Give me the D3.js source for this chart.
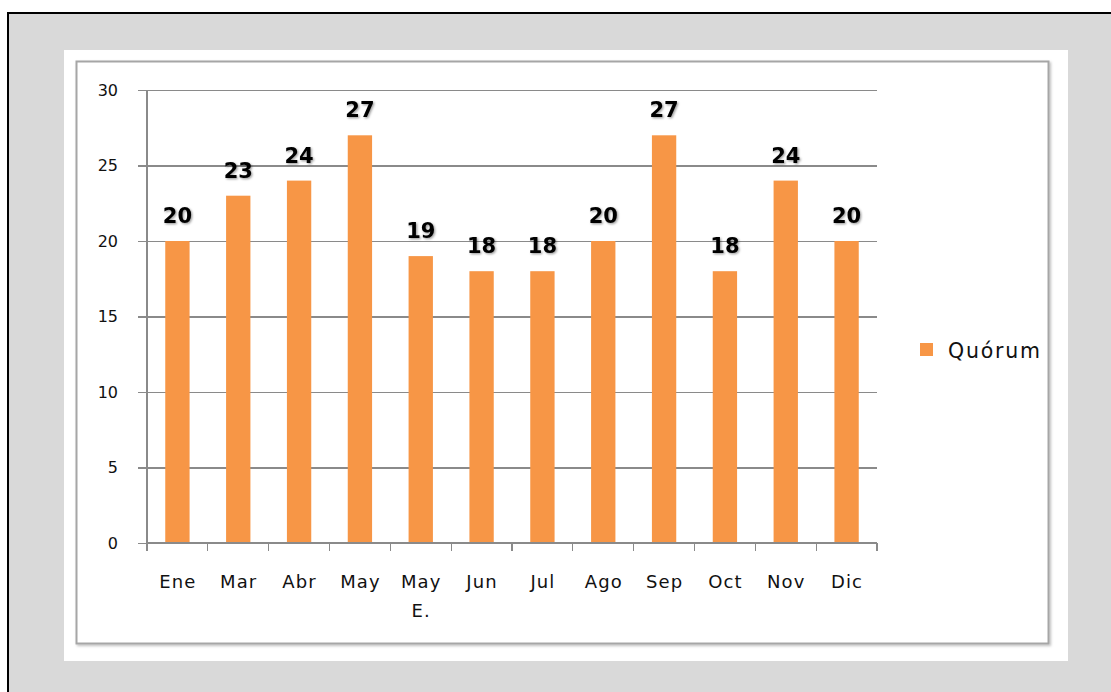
<!DOCTYPE html>
<html>
<head>
<meta charset="utf-8">
<script src="https://cdn.jsdelivr.net/npm/d3@7"></script>
<style>
  html, body { margin: 0; padding: 0; background: #ffffff; }
  svg { display: block; }
</style>
</head>
<body>
<script>
const categories = ["Ene", "Mar", "Abr", "May", "May\nE.", "Jun", "Jul", "Ago", "Sep", "Oct", "Nov", "Dic"];
const quorum = [20, 23, 24, 27, 19, 18, 18, 20, 27, 18, 24, 20];
const yTicks = [0, 5, 10, 15, 20, 25, 30];
const seriesName = "Quórum";

const W = 1111, H = 692;
const svg = d3.select("body").append("svg").attr("width", W).attr("height", H);

const defs = svg.append("defs");
const f = defs.append("filter").attr("id", "lblshadow").attr("x", "-20%").attr("y", "-20%").attr("width", "150%").attr("height", "150%");
f.append("feDropShadow").attr("dx", 1.2).attr("dy", 1.2).attr("stdDeviation", 0.9).attr("flood-color", "#000").attr("flood-opacity", 0.4);
const fs = defs.append("filter").attr("id", "frameshadow").attr("x", "-5%").attr("y", "-5%").attr("width", "110%").attr("height", "110%");
fs.append("feDropShadow").attr("dx", 1.5).attr("dy", 1.5).attr("stdDeviation", 0.8).attr("flood-color", "#000").attr("flood-opacity", 0.25);

// outer frame
svg.append("rect").attr("x", 8).attr("y", 13).attr("width", W).attr("height", H).attr("fill", "#d9d9d9").attr("stroke", "#000").attr("stroke-width", 2);
svg.append("rect").attr("x", 64).attr("y", 50).attr("width", 1004).attr("height", 611).attr("fill", "#ffffff");
svg.append("rect").attr("x", 76.5).attr("y", 61.5).attr("width", 972).attr("height", 582)
  .attr("fill", "#ffffff").attr("stroke", "#a6a6a6").attr("stroke-width", 2).attr("filter", "url(#frameshadow)");

const x0 = 147, x1 = 877, yTop = 90, yBot = 543;
const x = d3.scaleBand().domain(categories).range([x0, x1]).paddingInner(0.6).paddingOuter(0.3);
const y = d3.scaleLinear().domain([0, 30]).range([yBot, yTop]);

const font = "'DejaVu Sans', sans-serif";
const textCol = "#111";

// gridlines + y axis
const yAxis = d3.axisLeft(y).tickValues(yTicks).tickSize(x1 - x0 + 9).tickPadding(20).tickFormat(d3.format("d"));
const gy = svg.append("g").attr("transform", `translate(${x1},0)`).call(yAxis);
gy.select(".domain").remove();
gy.selectAll(".tick line").attr("stroke", "#8a8a8a").attr("stroke-width", 1.3).attr("shape-rendering", "crispEdges");
gy.selectAll(".tick text").attr("font-family", font).attr("font-size", 16).attr("fill", textCol);
svg.append("line").attr("x1", x0).attr("x2", x0).attr("y1", yTop).attr("y2", yBot)
  .attr("stroke", "#8a8a8a").attr("stroke-width", 1.5).attr("shape-rendering", "crispEdges");

// bars
svg.append("g").selectAll("rect").data(quorum).join("rect")
  .attr("x", (d, i) => x(categories[i]))
  .attr("y", d => y(d))
  .attr("width", x.bandwidth())
  .attr("height", d => y(0) - y(d))
  .attr("fill", "#f79646");

// x axis line and ticks at band boundaries
const bounds = d3.range(categories.length + 1).map(i => x0 + i * (x1 - x0) / categories.length);
svg.append("line").attr("x1", x0).attr("x2", x1).attr("y1", yBot).attr("y2", yBot)
  .attr("stroke", "#8a8a8a").attr("stroke-width", 1.5).attr("shape-rendering", "crispEdges");
svg.append("g").selectAll("line").data(bounds).join("line")
  .attr("x1", d => d).attr("x2", d => d).attr("y1", yBot).attr("y2", yBot + 8)
  .attr("stroke", "#8a8a8a").attr("stroke-width", 1.3).attr("shape-rendering", "crispEdges");

// x labels
const xl = svg.append("g").selectAll("text").data(categories).join("text")
  .attr("x", d => x(d) + x.bandwidth() / 2)
  .attr("y", 588)
  .attr("text-anchor", "middle")
  .attr("font-family", font).attr("font-size", 18).attr("letter-spacing", 1.1).attr("fill", textCol);
xl.each(function(d) {
  const lines = d.split("\n");
  const t = d3.select(this);
  lines.forEach((ln, k) => {
    t.append("tspan").attr("x", x(d) + x.bandwidth() / 2 + 0.5).attr("dy", k === 0 ? 0 : 29).text(ln);
  });
});

// data labels
svg.append("g").selectAll("text").data(quorum).join("text")
  .attr("x", (d, i) => x(categories[i]) + x.bandwidth() / 2)
  .attr("y", d => y(d) - 18)
  .attr("text-anchor", "middle")
  .attr("font-family", font).attr("font-weight", "bold").attr("font-size", 21)
  .attr("fill", "#000").attr("filter", "url(#lblshadow)")
  .text(d => d);

// legend
const lg = svg.append("g");
lg.append("rect").attr("x", 920).attr("y", 343).attr("width", 13).attr("height", 13).attr("fill", "#f79646");
lg.append("text").attr("x", 948).attr("y", 358).attr("font-family", font).attr("font-size", 20.5)
  .attr("letter-spacing", 1.8).attr("fill", textCol).text(seriesName);
</script>
</body>
</html>
